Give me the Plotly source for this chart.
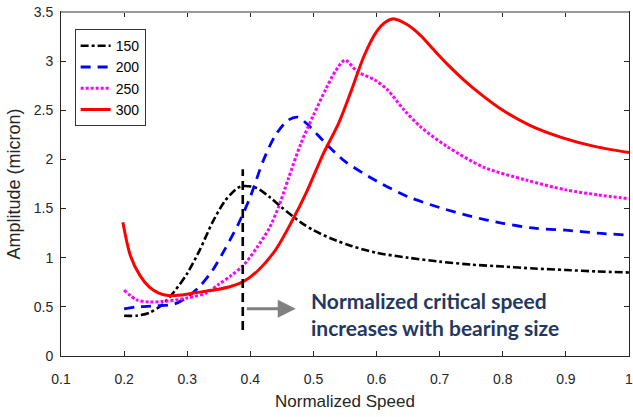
import plotly.graph_objects as go

# ---- data ----
x150 = [0.2, 0.22, 0.24, 0.26, 0.28, 0.30, 0.32, 0.34, 0.36, 0.38, 0.39, 0.41, 0.43, 0.45,
        0.48, 0.50, 0.53, 0.56, 0.60, 0.65, 0.70, 0.75, 0.80, 0.85, 0.90, 0.95, 1.0]
y150 = [0.41, 0.41, 0.44, 0.52, 0.66, 0.84, 1.08, 1.36, 1.58, 1.71, 1.73, 1.71, 1.62, 1.51,
        1.36, 1.28, 1.19, 1.12, 1.05, 1.00, 0.96, 0.93, 0.91, 0.89, 0.875, 0.86, 0.85]

x200 = [0.2, 0.22, 0.25, 0.28, 0.30, 0.32, 0.34, 0.36, 0.38, 0.40, 0.42, 0.44, 0.46, 0.475,
        0.49, 0.52, 0.55, 0.60, 0.65, 0.70, 0.75, 0.80, 0.85, 0.90, 0.95, 1.0]
y200 = [0.48, 0.50, 0.51, 0.53, 0.60, 0.71, 0.87, 1.09, 1.33, 1.62, 1.98, 2.25, 2.40, 2.43,
        2.36, 2.16, 1.98, 1.78, 1.62, 1.51, 1.42, 1.35, 1.30, 1.28, 1.25, 1.23]

x250 = [0.2, 0.22, 0.24, 0.27, 0.30, 0.33, 0.35, 0.37, 0.39, 0.41, 0.43, 0.445, 0.46, 0.48,
        0.50, 0.52, 0.535, 0.55, 0.57, 0.597, 0.617, 0.644, 0.67, 0.712, 0.77, 0.837, 0.90,
        0.95, 1.0]
y250 = [0.67, 0.57, 0.55, 0.56, 0.59, 0.64, 0.73, 0.82, 0.93, 1.10, 1.30, 1.52, 1.80, 2.16,
        2.45, 2.72, 2.90, 3.01, 2.89, 2.81, 2.71, 2.50, 2.33, 2.13, 1.92, 1.79, 1.69,
        1.64, 1.60]

x300 = [0.198, 0.21, 0.225, 0.24, 0.255, 0.27, 0.29, 0.31, 0.33, 0.35, 0.37, 0.39, 0.413,
        0.44, 0.465, 0.49, 0.515, 0.54, 0.56, 0.58, 0.60, 0.615, 0.628, 0.649, 0.67, 0.69,
        0.712, 0.738, 0.764, 0.80, 0.842, 0.895, 0.947, 1.0]
y300 = [1.36, 1.02, 0.82, 0.70, 0.64, 0.615, 0.62, 0.64, 0.66, 0.68, 0.71, 0.76, 0.875,
        1.08, 1.36, 1.68, 2.05, 2.37, 2.70, 3.05, 3.30, 3.40, 3.43, 3.37, 3.26, 3.12,
        2.97, 2.81, 2.67, 2.50, 2.35, 2.22, 2.13, 2.07]

series_names = ["150", "200", "250", "300"]
x_ticks = [0.1, 0.2, 0.3, 0.4, 0.5, 0.6, 0.7, 0.8, 0.9, 1.0]
x_tick_labels = ["0.1", "0.2", "0.3", "0.4", "0.5", "0.6", "0.7", "0.8", "0.9", "1"]
y_ticks = [0, 0.5, 1, 1.5, 2, 2.5, 3, 3.5]
y_tick_labels = ["0", "0.5", "1", "1.5", "2", "2.5", "3", "3.5"]

crit_speed = 0.388
crit_line_y = [0.265, 1.90]
arrow_y = 0.48
arrow_x = [0.392, 0.472]
note_text = "Normalized critical speed<br>increases with bearing size"

# ---- figure ----
fig = go.Figure()
styles = [
    dict(color="black", width=2.6, dash="8px,3px,3px,3px"),
    dict(color="#0000FF", width=2.8, dash="10px,7px"),
    dict(color="#FF00FF", width=3.0, dash="3px,2px"),
    dict(color="#FF0000", width=3.0, dash="solid"),
]
for name, xs, ys, st in zip(series_names, [x150, x200, x250, x300],
                            [y150, y200, y250, y300], styles):
    fig.add_trace(go.Scatter(x=xs, y=ys, mode="lines", name=name, legendgroup=name,
                             line=dict(shape="spline", smoothing=0.8, **st)))

fig.add_shape(type="line", xref="x", yref="y", x0=crit_speed, x1=crit_speed,
              y0=crit_line_y[0], y1=crit_line_y[1],
              line=dict(color="black", width=2.6, dash="9px,5px"))
# top border grey
fig.add_shape(type="line", xref="paper", yref="paper", x0=0, x1=1, y0=1, y1=1,
              line=dict(color="#999999", width=2))

fig.add_annotation(x=arrow_x[1], y=arrow_y, ax=arrow_x[0], ay=arrow_y,
                   xref="x", yref="y", axref="x", ayref="y", text="",
                   showarrow=True, arrowhead=2, arrowsize=1.2, arrowwidth=3,
                   arrowcolor="#808080")
fig.add_annotation(x=0.4936, y=0.43, xref="x", yref="y", text=note_text,
                   showarrow=False, xanchor="left", yanchor="middle", align="left",
                   font=dict(family="Lato", size=21, color="#1F3864", weight="bold"))

axis_font = dict(family="Liberation Sans, Arial", size=14, color="#262626")
fig.update_layout(
    width=633, height=417,
    margin=dict(l=61, r=0, t=12, b=61),
    paper_bgcolor="white", plot_bgcolor="white",
    showlegend=True,
    legend=dict(x=0.024, y=0.95, xanchor="left", yanchor="top",
                bgcolor="white", bordercolor="#333333", borderwidth=1,
                font=dict(family="Liberation Sans, Arial", size=14, color="black"),
                tracegroupgap=0, itemwidth=30),
    xaxis=dict(range=[0.1, 1.0], tickmode="array", tickvals=x_ticks, ticktext=x_tick_labels,
               ticks="inside", ticklen=5, tickcolor="#262626", showline=True,
               linecolor="#262626", linewidth=1, mirror="ticks", showgrid=False,
               zeroline=False, tickfont=axis_font, ticklabelstandoff=10,
               ticklabeloverflow="allow",
               title=dict(text="Normalized Speed", standoff=9,
                          font=dict(family="Liberation Sans, Arial", size=17, color="#262626"))),
    yaxis=dict(range=[0, 3.5], tickmode="array", tickvals=y_ticks, ticktext=y_tick_labels,
               ticks="inside", ticklen=5, tickcolor="#262626", showline=True,
               linecolor="#262626", linewidth=1, mirror="ticks", showgrid=False,
               zeroline=False, tickfont=axis_font, ticklabelstandoff=4,
               title=dict(text="Amplitude (micron)", standoff=8,
                          font=dict(family="Liberation Sans, Arial", size=18, color="#262626"))),
)

fig.write_html("out.html")
